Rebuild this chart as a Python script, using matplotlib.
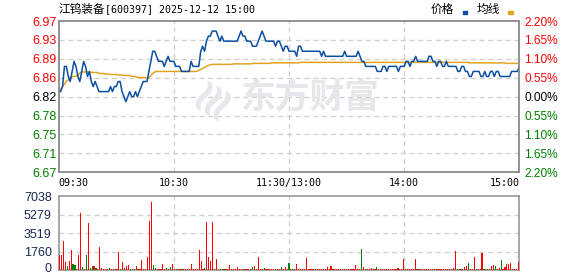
import matplotlib
matplotlib.use("Agg")
import matplotlib.pyplot as plt
import matplotlib.transforms as mtransforms
import numpy as np

# ---- data ----
prev_close = 6.82
price_labels = ["6.67", "6.71", "6.75", "6.78", "6.82", "6.86", "6.89", "6.93", "6.97"]
pct_labels = ["2.20%", "1.65%", "1.10%", "0.55%", "0.00%", "0.55%", "1.10%", "1.65%", "2.20%"]
vol_labels = ["0", "1760", "3519", "5279", "7038"]
time_labels = ["09:30", "10:30", "11:30/13:00", "14:00", "15:00"]

price = ([6.83, 6.83, 6.84, 6.88, 6.88, 6.86, 6.85, 6.87, 6.89, 6.88,
          6.86, 6.85, 6.87, 6.89, 6.88, 6.86, 6.87, 6.85, 6.84, 6.85,
          6.84] + [6.83] * 6 +
         [6.84, 6.83, 6.84, 6.84, 6.85, 6.85, 6.83, 6.82, 6.81, 6.82,
          6.83, 6.82, 6.82, 6.83, 6.82, 6.83, 6.84, 6.85, 6.85, 6.85,
          6.87, 6.89, 6.91, 6.91, 6.90, 6.89, 6.89, 6.89, 6.88, 6.89,
          6.90, 6.89, 6.89, 6.89, 6.88, 6.88, 6.88, 6.87, 6.87, 6.87,
          6.87, 6.87, 6.89, 6.88, 6.88, 6.88, 6.88, 6.91, 6.92, 6.91,
          6.93, 6.94, 6.94, 6.95, 6.95, 6.95, 6.94, 6.93, 6.94] + [6.93] * 8 +
         [6.94, 6.95, 6.94, 6.94, 6.93, 6.93, 6.93, 6.92, 6.92, 6.92,
          6.93, 6.94, 6.95, 6.94, 6.93, 6.93, 6.93, 6.93, 6.93, 6.92,
          6.93, 6.93, 6.92, 6.91, 6.92, 6.92, 6.91, 6.91, 6.91, 6.91,
          6.90, 6.92, 6.92] + [6.91] * 10 +
         [6.90, 6.91] + [6.90] * 10 + [6.91] + [6.90] * 6 +
         [6.91, 6.90, 6.89, 6.89] + [6.88] * 6 +
         [6.87, 6.87, 6.87, 6.88, 6.88, 6.87, 6.88, 6.88, 6.88, 6.88,
          6.88, 6.87, 6.88, 6.88, 6.88, 6.89, 6.89, 6.88, 6.89, 6.89,
          6.90, 6.89, 6.89, 6.89, 6.89, 6.89, 6.89, 6.90, 6.90, 6.89,
          6.89, 6.88, 6.89, 6.89, 6.88, 6.88, 6.89, 6.88, 6.88, 6.88,
          6.88, 6.88, 6.87, 6.87, 6.88, 6.88, 6.87, 6.87, 6.86, 6.86,
          6.87, 6.87, 6.87, 6.87, 6.86, 6.86, 6.87, 6.86, 6.86, 6.87,
          6.87, 6.86, 6.87, 6.87, 6.86, 6.86, 6.86, 6.86, 6.86, 6.86,
          6.87, 6.87, 6.87, 6.87, 6.88])

avg = ([6.833, 6.835, 6.840, 6.845, 6.851, 6.853, 6.858, 6.860, 6.860, 6.861,
        6.862, 6.867, 6.869, 6.869, 6.869, 6.869, 6.869] + [6.868] * 4 +
       [6.866] * 3 + [6.865] * 3 + [6.864] * 4 + [6.863] * 3 + [6.862] * 4 +
       [6.860] * 3 + [6.858] * 4 + [6.857, 6.857, 6.858, 6.862, 6.866, 6.869] +
       [6.870] * 22 + [6.872, 6.874, 6.876, 6.878, 6.880, 6.882, 6.883] +
       [6.884] * 11 + [6.885] * 10 + [6.886] * 10 + [6.887] * 15 +
       [6.888] * 88 + [6.887] * 19 + [6.886] * 8)

# volume per minute, 1 = up (red), 0 = down (green)
vol = [130] * 241
up = [1] * 241
big = {0: (1433, 1), 1: (1433, 1), 2: (2770, 1), 3: (800, 1), 4: (414, 0),
       5: (860, 1), 6: (1911, 1), 7: (573, 0), 8: (478, 0), 9: (160, 1),
       10: (1433, 1), 11: (5446, 1), 12: (318, 0), 13: (160, 1), 14: (1433, 0),
       15: (4490, 1), 16: (223, 0), 17: (382, 0), 18: (382, 1), 19: (223, 0),
       20: (160, 1), 21: (2198, 1), 22: (223, 1), 26: (223, 0), 31: (1720, 1),
       32: (130, 0), 33: (764, 1), 34: (190, 1), 35: (414, 1), 36: (478, 1),
       37: (130, 0), 40: (414, 1), 41: (130, 0), 43: (955, 1), 46: (1242, 1),
       47: (4682, 1), 48: (6497, 1), 49: (478, 0), 50: (223, 0), 54: (573, 1),
       56: (223, 0), 58: (318, 0), 59: (573, 1), 61: (130, 0), 64: (130, 0),
       69: (573, 1), 73: (1911, 1), 74: (860, 1), 76: (223, 0), 77: (4586, 1),
       78: (1242, 1), 79: (860, 1), 80: (4586, 1), 82: (1051, 1), 83: (130, 0),
       84: (130, 0), 86: (130, 0), 89: (478, 1), 93: (287, 1), 96: (130, 0),
       100: (130, 0), 101: (318, 0), 102: (382, 1), 104: (1242, 1), 106: (130, 0),
       107: (223, 0), 116: (287, 0), 118: (318, 1), 120: (669, 0), 122: (130, 0),
       124: (573, 1), 129: (1146, 1), 134: (130, 0), 140: (287, 1), 142: (414, 1),
       150: (130, 0), 155: (509, 1), 158: (2006, 0), 159: (318, 1), 160: (130, 0),
       163: (223, 1), 166: (287, 0), 177: (223, 1), 178: (130, 0), 180: (1083, 1),
       186: (1051, 1), 187: (130, 0), 196: (130, 0), 206: (223, 1), 207: (1847, 1),
       208: (130, 0), 210: (130, 0), 212: (287, 1), 213: (414, 1), 214: (669, 0),
       217: (1242, 1), 218: (160, 0), 221: (1624, 1), 222: (160, 0), 223: (130, 0),
       225: (130, 0), 226: (382, 1), 227: (478, 1), 228: (382, 0), 230: (223, 1),
       231: (955, 0), 233: (287, 1), 234: (573, 1), 235: (573, 1), 236: (669, 1),
       240: (764, 1)}
for k, (v, u) in big.items():
    vol[k] = v
    up[k] = u

# ---- figure ----
W, H = 578, 276
fig = plt.figure(figsize=(W / 100, H / 100), dpi=100)

def box(x0, y0, x1, y1):
    return [x0 / W, 1 - y1 / H, (x1 - x0) / W, (y1 - y0) / H]

ax = fig.add_axes(box(58.7, 21, 519.3, 172.3))
axv = fig.add_axes(box(58.7, 196.3, 519.3, 270.3))

frame_col = "#8e8e8e"
grid_col = "#cfcfcf"
red = "#ff0000"
green = "#008000"

minutes = np.arange(len(price))
levels = np.linspace(prev_close - 0.15, prev_close + 0.15, 9)

# watermark (placed in figure pixels)
fig.text(310 / W, 1 - 97 / H, "东方财富", fontsize=25, fontweight="bold", color="#e6e6eb",
         family=["Noto Sans CJK SC"], ha="center", va="center", zorder=0)
fig.text(214 / W, 1 - 97 / H, "≋", fontsize=34, fontweight="bold", color="#e6e6eb",
         rotation=60, ha="center", va="center", zorder=0)

for lv in levels[1:-1]:
    ax.axhline(lv, color=grid_col, lw=0.9, ls=(0, (4, 3)), zorder=1)
for m in [60, 120, 180]:
    ax.axvline(m, color=grid_col, lw=0.9, ls=(0, (4, 3)), zorder=1)

ax.patch.set_alpha(0)
ax.plot(minutes, avg, color="#e0a422", lw=1.1, zorder=3)
ax.plot(minutes, price, color="#0b4fa3", lw=1.1, zorder=4)

ax.set_xlim(0, 240)
ax.set_ylim(levels[0], levels[-1])
ax.set_yticks(levels)
ax.set_yticklabels(price_labels, family="Liberation Sans", fontsize=9)
lab_cols = [green] * 4 + ["black"] + [red] * 4
for t, c in zip(ax.get_yticklabels(), lab_cols):
    t.set_color(c)
ax.tick_params(axis="y", length=0, pad=1.5)

ax.set_xticks([0, 60, 120, 180, 240])
ax.set_xticklabels(time_labels, family="DejaVu Sans Mono", fontsize=7.2)
ax.tick_params(axis="x", length=0, pad=4)
xl = ax.get_xticklabels()
xl[0].set_ha("left")
xl[-1].set_ha("right")

axr = ax.twinx()
axr.set_ylim(levels[0], levels[-1])
axr.set_yticks(levels)
axr.set_yticklabels(pct_labels, family="Liberation Sans", fontsize=8.6)
for t, c in zip(axr.get_yticklabels(), lab_cols):
    t.set_color(c)
axr.tick_params(axis="y", length=0, pad=3.5)

for a in (ax, axr, axv):
    for s in a.spines.values():
        s.set_color(frame_col)
        s.set_linewidth(1.1)

# volume
vmax = 7038
vlevels = np.linspace(0, vmax, 5)
for lv in vlevels[1:-1]:
    axv.axhline(lv, color=grid_col, lw=0.9, ls=(0, (4, 3)), zorder=1)
for m in [60, 120, 180]:
    axv.axvline(m, color=grid_col, lw=0.9, ls=(0, (4, 3)), zorder=1)
bar_x = (np.arange(len(vol)) + 0.5) * 240 / len(vol)
bar_c = [red if u else green for u in up]
axv.bar(bar_x, vol, width=0.6, color=bar_c, zorder=3)
axv.set_xlim(0, 240)
axv.set_ylim(0, vmax)
axv.set_xticks([])
axv.set_yticks(vlevels)
axv.set_yticklabels(vol_labels, family="Liberation Sans", fontsize=9, color="#1c2a52")
axv.tick_params(axis="y", length=0, pad=5)
zero_lab = axv.get_yticklabels()[0]
zero_lab.set_va("baseline")
zero_lab.set_transform(zero_lab.get_transform() +
                       mtransforms.ScaledTranslation(0, -1.5 / 72, fig.dpi_scale_trans))

# title and legend
fig.text(59 / W, 1 - 9.5 / H, "江钨装备", family=["Noto Sans CJK SC"], fontsize=8.4,
         va="center", ha="left")
fig.text(105 / W, 1 - 9.5 / H, "[600397] 2025-12-12 15:00", family="DejaVu Sans Mono",
         fontsize=7.2, va="center", ha="left")
fig.text(431 / W, 1 - 9.5 / H, "价格", family=["Noto Sans CJK SC"], fontsize=8.4,
         va="center", ha="left")
fig.text(477 / W, 1 - 9.5 / H, "均线", family=["Noto Sans CJK SC"], fontsize=8.4,
         va="center", ha="left")
fig.patches.append(plt.Rectangle((463 / W, 1 - 14 / H), 4.5 / W, 2.5 / H,
                                 color="#0b4fa3", transform=fig.transFigure))
fig.patches.append(plt.Rectangle((508 / W, 1 - 14 / H), 4.5 / W, 2.5 / H,
                                 color="#e0a422", transform=fig.transFigure))

fig.savefig("out.png", dpi=100)
